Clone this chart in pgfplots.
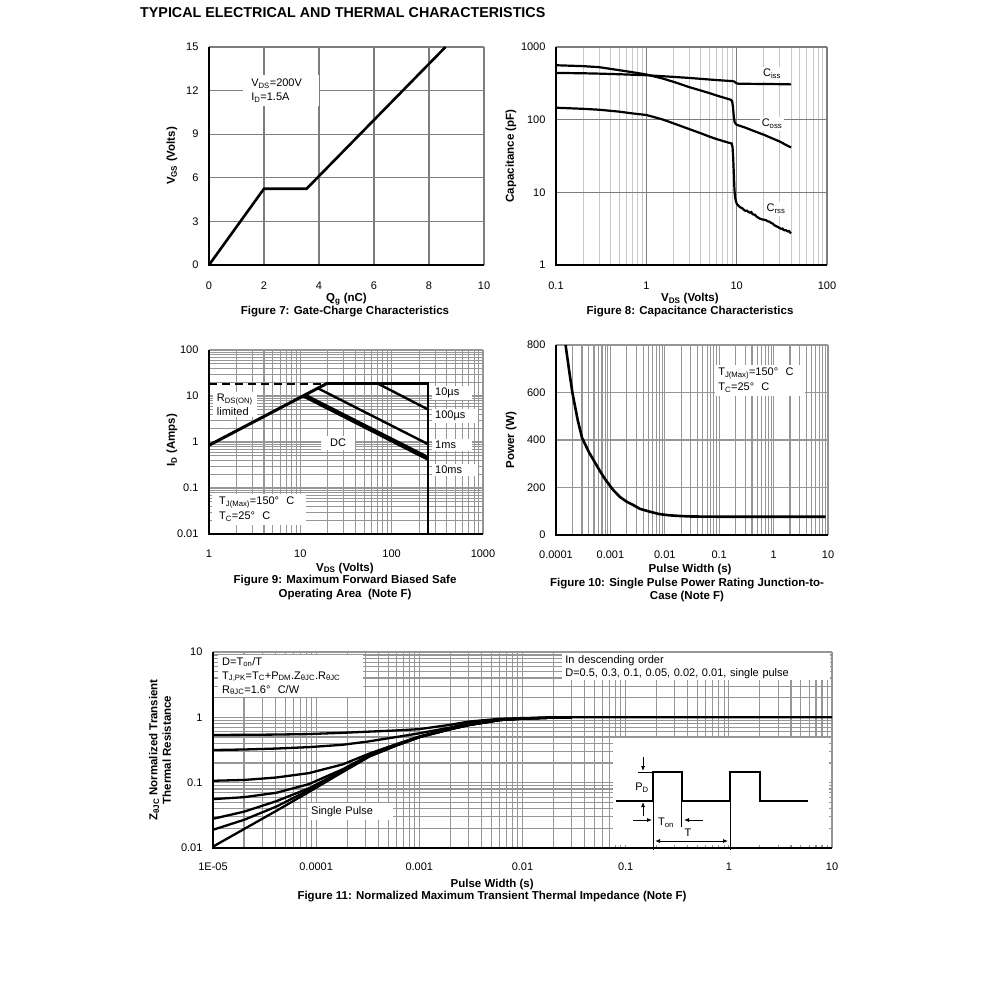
\documentclass[border=0pt]{standalone}
\usepackage{fontspec}
\setmainfont{Liberation Sans}
\usepackage{pgfplots}
\pgfplotsset{compat=1.18}
\usetikzlibrary{arrows.meta}

\definecolor{gridc}{RGB}{150,150,150}
\definecolor{gridd}{RGB}{125,125,125}
\definecolor{gridl}{RGB}{200,200,200}

\pgfplotsset{
  ds/.style={
    scale only axis, clip=false, anchor=south west,
    axis line style={draw=none},
    major tick length=0pt, minor tick length=0pt,
    /pgf/number format/assume math mode=true,
    tick label style={font=\fontsize{11}{13}\selectfont},
    yticklabel style={xshift=-7pt},
    label style={font=\fontsize{11.5}{13}\selectfont\bfseries},
    major grid style={gridc, line width=1.2pt},
    minor grid style={gridc, line width=1.1pt},
  },
}
\tikzset{lbl/.style={fill=white, align=left, anchor=north west, font=\fontsize{11}{14}\selectfont},
  figcap/.style={font=\fontsize{11.5}{13}\selectfont\bfseries}}
\newcommand{\axlines}{\draw[line width=2.6pt] (rel axis cs:0,1) -- (rel axis cs:0,0) -- (rel axis cs:1,0);}

\begin{document}
\begin{tikzpicture}
\useasboundingbox (0,0) rectangle (991pt,-1008pt);
\fill[white] (0,0) rectangle (991pt,-1008pt);

\node[anchor=west, inner sep=0pt, font=\fontsize{14.3}{16}\selectfont\bfseries] at (140pt,-13pt) {TYPICAL ELECTRICAL AND THERMAL CHARACTERISTICS};

% ---------------- Figure 7
\begin{axis}[ds, at={(209pt,-265pt)}, width=275pt, height=218pt,
  xmin=0, xmax=10, ymin=0, ymax=15,
  xtick={0,2,4,6,8,10}, ytick={0,3,6,9,12,15},
  xticklabel style={yshift=-13pt},
  grid=major, major grid style={gridd, line width=1.3pt},
  xlabel={Q\textsubscript{g} (nC)}, ylabel={V\textsubscript{GS} (Volts)},
  xlabel style={at={(axis description cs:0.5,-0.156)}, anchor=center},
  ylabel style={at={(axis description cs:-0.1345,0.5)}, anchor=center},
]
\addplot[black, line width=2.6pt] coordinates {(0,0) (2,5.25) (3.55,5.25) (8.6,15)};
\node[lbl, inner xsep=8pt, inner ysep=4pt, text width=60pt] at (rel axis cs:0.124,0.872)
  {V\textsubscript{DS}=200V\\I\textsubscript{D}=1.5A};
\axlines
\end{axis}
\node[figcap] at (345pt,-312pt) {Figure 7: Gate-Charge Characteristics};

% ---------------- Figure 8
\begin{axis}[ds, xmode=log, ymode=log, at={(556pt,-265pt)}, width=271pt, height=218pt,
  xmin=0.1, xmax=100, ymin=1, ymax=1000,
  xtick={0.1,1,10,100}, xticklabels={0.1,1,10,100},
  ytick={1,10,100,1000}, yticklabels={1,10,100,1000},
  xticklabel style={yshift=-13pt},
  minor xtick={0.2,0.3,0.4,0.5,0.6,0.7,0.8,0.9,2,3,4,5,6,7,8,9,20,30,40,50,60,70,80,90},
  minor ytick={},
  xmajorgrids, ymajorgrids, xminorgrids,
  major grid style={gridd, line width=1.2pt}, minor grid style={gridl, line width=1pt},
  xlabel={V\textsubscript{DS} (Volts)}, ylabel={Capacitance (pF)},
  xlabel style={at={(axis description cs:0.494,-0.156)}, anchor=center},
  ylabel style={at={(axis description cs:-0.166,0.5)}, anchor=center},
]
\addplot[black, line width=2.2pt] coordinates {(0.1,440)(0.2,435)(0.3,430)(0.5,422)(1,409)(2,388)(3,375)(5,357)(7,346)(8.8,340)(9.4,335)(9.9,318)(10.5,312)(15,311)(20,310)(30,308)(40,306)};
\addplot[black, line width=2.2pt] coordinates {(0.1,561)(0.2,545)(0.3,528)(0.5,480)(0.7,450)(1,418)(1.5,370)(2,332)(3,280)(4,252)(5,232)(6,215)(7,203)(8,193)(8.6,188)(8.9,180)(9.1,150)(9.3,110)(9.5,92)(9.8,87)(10,85)(12,79)(15,71)(20,62)(25,55)(30,50)(35,45)(40,41.5)};
\addplot[black, line width=2.2pt] coordinates {(0.1,146)(0.2,141)(0.3,137)(0.5,129)(0.7,122)(1,116)(1.5,101)(2,89)(3,74)(4,65)(5,58.5)(6,54)(7,51)(8,48.5)(8.8,47)(9.0,42)(9.15,30)(9.3,18)(9.45,11)(9.6,8.6)(9.8,7.6)(10,7.0)(10.5,6.5)(11,6.2)(11.5,6.05)(12,5.75)(12.5,5.55)(13,5.6)(13.5,5.35)(14,5.25)(14.5,5.35)(15,5.0)(16,4.9)(16.5,4.65)(17,4.55)(18,4.35)(19,4.25)(20,4.2)(21,4.15)(22,4.0)(23,3.95)(24,3.8)(25,3.72)(26,3.55)(27,3.45)(28,3.38)(29,3.3)(30,3.22)(31,3.15)(32,3.17)(33,3.05)(34,3.0)(35,3.02)(36,2.95)(37,2.9)(38,2.93)(39,2.8)(40,2.72)};
\node[fill=white, inner sep=2pt, font=\fontsize{11}{13}\selectfont] at (rel axis cs:0.797,0.876) {C\textsubscript{iss}};
\node[fill=white, inner sep=2pt, font=\fontsize{11}{13}\selectfont] at (rel axis cs:0.797,0.647) {C\textsubscript{oss}};
\node[fill=white, inner sep=2pt, font=\fontsize{11}{13}\selectfont] at (rel axis cs:0.812,0.257) {C\textsubscript{rss}};
\axlines
\end{axis}
\node[figcap] at (690pt,-312pt) {Figure 8: Capacitance Characteristics};

% ---------------- Figure 9
\begin{axis}[ds, xmode=log, ymode=log, at={(209pt,-534pt)}, width=274pt, height=184pt,
  xmin=1, xmax=1000, ymin=0.01, ymax=100,
  xtick={1,10,100,1000}, xticklabels={1,10,100,1000},
  ytick={0.01,0.1,1,10,100}, yticklabels={0.01,0.1,1,10,100},
  xticklabel style={yshift=-12pt},
  minor xtick={2,3,4,5,6,7,8,9,20,30,40,50,60,70,80,90,200,300,400,500,600,700,800,900},
  minor ytick={0.02,0.03,0.04,0.05,0.06,0.07,0.08,0.09,0.2,0.3,0.4,0.5,0.6,0.7,0.8,0.9,2,3,4,5,6,7,8,9,20,30,40,50,60,70,80,90},
  grid=both,
  xlabel={V\textsubscript{DS} (Volts)}, ylabel={I\textsubscript{D} (Amps)},
  xlabel style={at={(axis description cs:0.496,-0.185)}, anchor=center},
  ylabel style={at={(axis description cs:-0.135,0.51)}, anchor=center},
]
\addplot[black, line width=2.4pt, dash pattern=on 8pt off 5pt] coordinates {(1,18.5) (19.3,18.5)};
\addplot[black, line width=3pt] coordinates {(1,0.85) (19.3,18.5)};
\addplot[black, line width=2.8pt] coordinates {(19.3,18.5) (250,18.5) (250,0.01)};
\addplot[black, line width=2.4pt] coordinates {(71,18.5) (250,5.1)};
\addplot[black, line width=2.4pt] coordinates {(15.7,14.6) (250,0.9)};
\addplot[black, line width=2.4pt] coordinates {(11.4,10.5) (250,0.47)};
\addplot[black, line width=3pt] coordinates {(10.8,10.0) (250,0.42)};
\node[lbl, inner xsep=4pt, inner ysep=2pt, text width=36pt, font=\fontsize{11}{13.5}\selectfont] at (rel axis cs:0.0135,0.773) {R\textsubscript{DS(ON)}\\limited};
\node[fill=white, anchor=west, inner xsep=3pt, inner ysep=2pt, text width=34pt, align=left, font=\fontsize{11}{13}\selectfont] at (rel axis cs:0.814,0.766) {10µs};
\node[fill=white, anchor=west, inner xsep=3pt, inner ysep=2pt, text width=40pt, align=left, font=\fontsize{11}{13}\selectfont] at (rel axis cs:0.814,0.641) {100µs};
\node[fill=white, anchor=west, inner xsep=3pt, inner ysep=2pt, text width=34pt, align=left, font=\fontsize{11}{13}\selectfont] at (rel axis cs:0.814,0.484) {1ms};
\node[fill=white, anchor=west, inner xsep=3pt, inner ysep=2pt, text width=40pt, align=left, font=\fontsize{11}{13}\selectfont] at (rel axis cs:0.814,0.348) {10ms};
\node[fill=white, minimum width=34pt, inner ysep=3pt, font=\fontsize{11}{13}\selectfont] at (rel axis cs:0.471,0.495) {DC};
\node[lbl, inner xsep=7pt, inner ysep=3pt, text width=80pt, font=\fontsize{11}{15}\selectfont] at (rel axis cs:0.011,0.217) {T\textsubscript{J(Max)}=150°~~C\\T\textsubscript{C}=25°~~C};
\axlines
\end{axis}
\node[figcap] at (345pt,-581pt) {Figure 9: Maximum Forward Biased Safe};
\node[figcap] at (345pt,-595pt) {Operating Area~~(Note F)};

% ---------------- Figure 10
\begin{axis}[ds, xmode=log, at={(556pt,-535pt)}, width=272pt, height=190pt,
  xmin=1e-4, xmax=10, ymin=0, ymax=800,
  xtick={1e-4,1e-3,1e-2,1e-1,1,10}, xticklabels={0.0001,0.001,0.01,0.1,1,10},
  ytick={0,200,400,600,800},
  xticklabel style={yshift=-12pt},
  minor xtick={2e-4,3e-4,4e-4,5e-4,6e-4,7e-4,8e-4,9e-4,2e-3,3e-3,4e-3,5e-3,6e-3,7e-3,8e-3,9e-3,0.02,0.03,0.04,0.05,0.06,0.07,0.08,0.09,0.2,0.3,0.4,0.5,0.6,0.7,0.8,0.9,2,3,4,5,6,7,8,9},
  xmajorgrids, ymajorgrids, xminorgrids,
  xlabel={Pulse Width (s)}, ylabel={Power (W)},
  xlabel style={at={(axis description cs:0.493,-0.184)}, anchor=center},
  ylabel style={at={(axis description cs:-0.165,0.5)}, anchor=center},
]
\addplot[black, line width=2.6pt] coordinates {(1.5e-4,800)(1.75e-4,690)(2.0e-4,600)(2.5e-4,485)(3.0e-4,410)(4e-4,350)(5e-4,312)(6.4e-4,270)(8e-4,235)(1e-3,205)(1.13e-3,189)(1.5e-3,160)(2e-3,140)(2.64e-3,126)(3.5e-3,110)(5.35e-3,98)(8e-3,88)(1.2e-2,83)(1.9e-2,80)(3e-2,78)(0.1,77)(1,77)(9,77)};
\node[lbl, inner xsep=3pt, inner ysep=3pt, text width=84pt, font=\fontsize{11}{15}\selectfont] at (rel axis cs:0.585,0.895) {T\textsubscript{J(Max)}=150°~~C\\T\textsubscript{C}=25°~~C};
\axlines
\end{axis}
\node[figcap] at (687pt,-584pt) {Figure 10: Single Pulse Power Rating Junction-to-};
\node[figcap] at (687pt,-597pt) {Case (Note F)};

% ---------------- Figure 11
\begin{axis}[ds, xmode=log, ymode=log, at={(213pt,-848pt)}, width=619pt, height=196pt,
  xmin=1e-5, xmax=10, ymin=0.01, ymax=10,
  xtick={1e-5,1e-4,1e-3,1e-2,1e-1,1,10}, xticklabels={1E-05,0.0001,0.001,0.01,0.1,1,10},
  ytick={0.01,0.1,1,10}, yticklabels={0.01,0.1,1,10},
  xticklabel style={yshift=-11pt},
  minor xtick={2e-5,3e-5,4e-5,5e-5,6e-5,7e-5,8e-5,9e-5,2e-4,3e-4,4e-4,5e-4,6e-4,7e-4,8e-4,9e-4,2e-3,3e-3,4e-3,5e-3,6e-3,7e-3,8e-3,9e-3,0.02,0.03,0.04,0.05,0.06,0.07,0.08,0.09,0.2,0.3,0.4,0.5,0.6,0.7,0.8,0.9,2,3,4,5,6,7,8,9},
  minor ytick={0.02,0.03,0.04,0.05,0.06,0.07,0.08,0.09,0.2,0.3,0.4,0.5,0.6,0.7,0.8,0.9,2,3,4,5,6,7,8,9},
  grid=both,
  xlabel={Pulse Width (s)},
  ylabel={Z\textsubscript{θJC} Normalized Transient\\Thermal Resistance},
  ylabel style={align=center, at={(axis description cs:-0.0856,0.5)}, anchor=center, font=\fontsize{11.5}{13.5}\selectfont\bfseries},
  xlabel style={at={(axis description cs:0.451,-0.184)}, anchor=center},
]
\addplot[black, line width=2.3pt] coordinates {(1e-5,0.537)(2e-5,0.54)(4.1e-5,0.545)(8.5e-5,0.555)(1.8e-4,0.58)(3.3e-4,0.605)(6e-4,0.63)(1e-3,0.66)(2e-3,0.77)(3e-3,0.86)(6e-3,0.95)(1e-2,0.975)(2e-2,0.995)(3e-2,1.0)};
\addplot[black, line width=2.3pt] coordinates {(1e-5,0.316)(2e-5,0.322)(4.1e-5,0.333)(8.5e-5,0.35)(1.8e-4,0.38)(3.1e-4,0.424)(6e-4,0.50)(1e-3,0.57)(2e-3,0.70)(3e-3,0.81)(6e-3,0.93)(1e-2,0.965)(2e-2,0.995)(3e-2,1.0)};
\addplot[black, line width=2.3pt] coordinates {(1e-5,0.107)(2e-5,0.11)(4.1e-5,0.12)(8.5e-5,0.14)(1.8e-4,0.19)(3.3e-4,0.28)(6e-4,0.39)(1e-3,0.51)(2e-3,0.67)(3e-3,0.77)(6e-3,0.91)(1e-2,0.955)(2e-2,0.99)(3e-2,1.0)};
\addplot[black, line width=2.3pt] coordinates {(1e-5,0.056)(2e-5,0.06)(4.1e-5,0.07)(8.5e-5,0.095)(1.8e-4,0.16)(3.3e-4,0.265)(6e-4,0.38)(1e-3,0.505)(2e-3,0.665)(3e-3,0.765)(6e-3,0.91)(1e-2,0.955)(2e-2,0.99)(3e-2,1.0)};
\addplot[black, line width=2.3pt] coordinates {(1e-5,0.028)(2e-5,0.036)(4.1e-5,0.052)(8.5e-5,0.082)(1.8e-4,0.152)(3.3e-4,0.258)(6e-4,0.375)(1e-3,0.5)(2e-3,0.66)(3e-3,0.76)(6e-3,0.91)(1e-2,0.955)(2e-2,0.99)(3e-2,1.0)};
\addplot[black, line width=2.3pt] coordinates {(1e-5,0.019)(2e-5,0.027)(4.1e-5,0.043)(8.5e-5,0.077)(1.8e-4,0.148)(3.3e-4,0.255)(6e-4,0.372)(1e-3,0.498)(2e-3,0.66)(3e-3,0.76)(6e-3,0.91)(1e-2,0.955)(2e-2,0.99)(3e-2,1.0)};
\addplot[black, line width=2.3pt] coordinates {(1e-5,0.0105)(2e-5,0.0195)(4.1e-5,0.037)(8.5e-5,0.072)(1.8e-4,0.145)(3.3e-4,0.252)(6e-4,0.37)(1e-3,0.495)(2e-3,0.655)(3e-3,0.76)(6e-3,0.91)(1e-2,0.955)(2e-2,0.99)(3e-2,1.0)(0.1,1.0)(1,1.0)(10,1.0)};
\node[lbl, inner xsep=4pt, inner ysep=2pt, text width=137pt] at (rel axis cs:0.0081,0.985)
  {D=T\textsubscript{on}/T\\T\textsubscript{J,PK}=T\textsubscript{C}+P\textsubscript{DM}.Z\textsubscript{θJC}.R\textsubscript{θJC}\\R\textsubscript{θJC}=1.6°~~C/W};
\node[lbl, inner xsep=3pt, inner ysep=2pt, text width=262pt, font=\fontsize{11}{13}\selectfont] at (rel axis cs:0.564,0.995)
  {In descending order\\D=0.5, 0.3, 0.1, 0.05, 0.02, 0.01, single pulse};
\node[fill=white, anchor=west, inner xsep=3pt, inner ysep=3pt, text width=79pt, align=left, font=\fontsize{11}{13}\selectfont] at (rel axis cs:0.1535,0.186) {Single Pulse};
\axlines
\end{axis}
\node[figcap] at (492pt,-897pt) {Figure 11: Normalized Maximum Transient Thermal Impedance (Note F)};

% inset schematic of Figure 11
\begin{scope}[x=1pt, y=-1pt]
\fill[white] (613,738) rectangle (829,845);
\draw[line width=2.4pt, line join=miter] (616,801) -- (653,801) -- (653,772) -- (682,772) -- (682,801) -- (730,801) -- (730,772) -- (760,772) -- (760,801) -- (808,801);
\draw[line width=0.6pt] (638,772) -- (653,772);
\draw[line width=0.8pt, -{Latex[length=5pt,width=4pt]}] (643,757) -- (643,771);
\draw[line width=0.8pt, -{Latex[length=5pt,width=4pt]}] (643,816) -- (643,802);
\node[font=\fontsize{11}{13}\selectfont] at (642,788) {P\textsubscript{D}};
\draw[line width=0.8pt] (681,801) -- (681,827);
\draw[line width=0.8pt, -{Latex[length=5pt,width=4pt]}] (633,820) -- (652,820);
\draw[line width=0.8pt, -{Latex[length=5pt,width=4pt]}] (703,820) -- (684,820);
\node[font=\fontsize{11}{13}\selectfont] at (666,823) {T\textsubscript{on}};
\draw[line width=0.6pt] (653,801) -- (653,850);
\draw[line width=0.6pt] (730,801) -- (730,850);
\draw[line width=0.8pt, {Latex[length=5pt,width=4pt]}-{Latex[length=5pt,width=4pt]}] (655,841) -- (728,841);
\node[font=\fontsize{11}{13}\selectfont] at (688,833) {T};
\end{scope}
\end{tikzpicture}
\end{document}
